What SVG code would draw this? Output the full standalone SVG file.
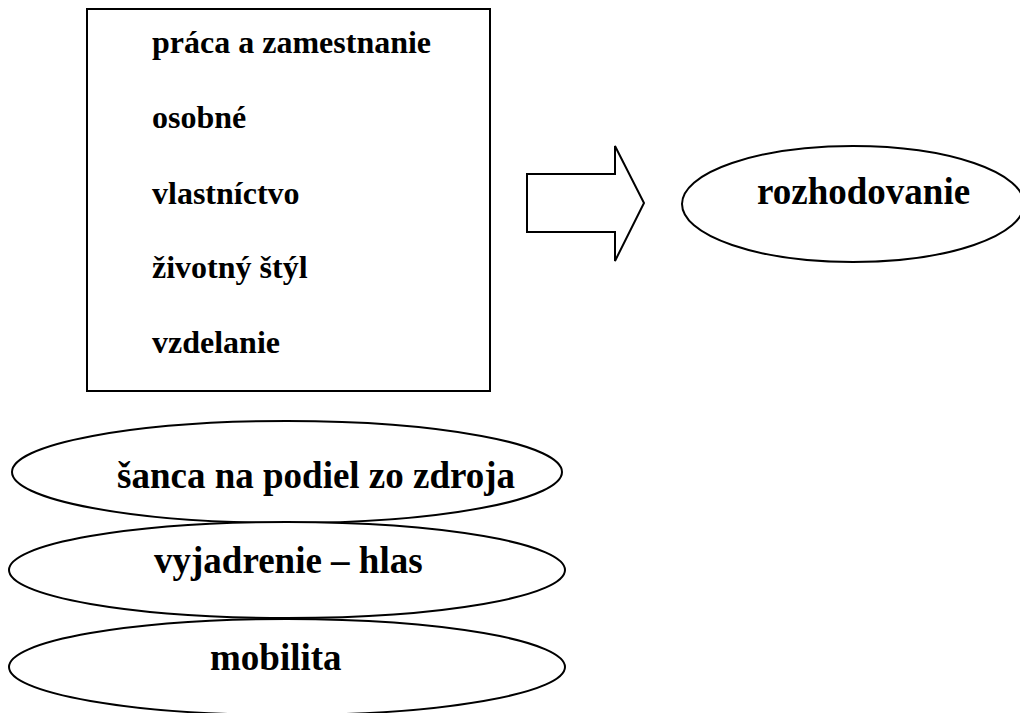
<svg xmlns="http://www.w3.org/2000/svg" width="1020" height="713" viewBox="0 0 1020 713">
<style>
.s{fill:#fff;stroke:#000;stroke-width:2}
.t{font-family:"Liberation Serif","Times New Roman",serif;font-weight:bold;fill:#000}
.t32{font-size:32px}
.t37{font-size:37px}
</style>
<rect width="1020" height="713" fill="#fff"/>
<g id="box">
<rect class="s" x="87" y="9" width="403" height="382"/>
<text class="t t32" x="152" y="53">práca a zamestnanie</text>
<text class="t t32" x="152" y="128">osobné</text>
<text class="t t32" x="152" y="204">vlastníctvo</text>
<text class="t t32" x="152" y="278">životný štýl</text>
<text class="t t32" x="152" y="353">vzdelanie</text>
</g>
<g id="connectors">
<polygon class="s" points="527,174 615,174 615,146 644,203 615,261 615,232 527,232"/>
</g>
<g id="rozhodovanie">
<ellipse class="s" cx="853" cy="204" rx="171" ry="58"/>
<text class="t t37" x="757" y="204">rozhodovanie</text>
</g>
<g id="sanca">
<ellipse class="s" cx="287" cy="472" rx="275" ry="51"/>
<text class="t t37" x="117" y="488">šanca na podiel zo zdroja</text>
</g>
<g id="vyjadrenie">
<ellipse class="s" cx="287" cy="570" rx="278" ry="48"/>
<text class="t t37" x="154" y="573">vyjadrenie – hlas</text>
</g>
<g id="mobilita">
<ellipse class="s" cx="287" cy="667" rx="278" ry="48"/>
<text class="t t37" x="210" y="670">mobilita</text>
</g>
</svg>
